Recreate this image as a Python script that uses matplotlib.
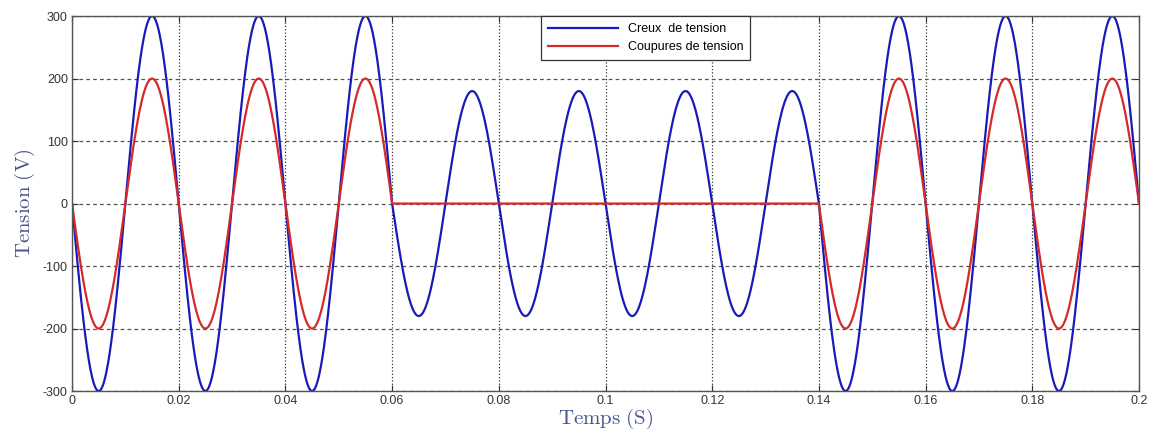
import numpy as np
import matplotlib
matplotlib.use('Agg')
from matplotlib import pyplot as plt

# signal description
seg_edges = [0.0, 0.06, 0.14, 0.2]      # s
creux_amp = [300, 180, 300]             # V, voltage dip
coupure_amp = [200, 0, 200]             # V, voltage cut
freq = 50                               # Hz

xticks = [0, 0.02, 0.04, 0.06, 0.08, 0.1, 0.12, 0.14, 0.16, 0.18, 0.2]
xtick_labels = ['0', '0.02', '0.04', '0.06', '0.08', '0.1', '0.12', '0.14', '0.16', '0.18', '0.2']
yticks = [-300, -200, -100, 0, 100, 200, 300]


def build_wave(amps):
    t_all, v_all = [], []
    for i, a in enumerate(amps):
        t = np.linspace(seg_edges[i], seg_edges[i + 1], 800)
        t_all.append(t)
        v_all.append(-a * np.sin(2 * np.pi * freq * t))
    return np.concatenate(t_all), np.concatenate(v_all)


t1, v1 = build_wave(creux_amp)
t2, v2 = build_wave(coupure_amp)

plt.rcParams['font.family'] = ['Liberation Sans', 'DejaVu Sans']
plt.rcParams['mathtext.fontset'] = 'cm'
plt.rcParams['axes.unicode_minus'] = False

fig = plt.figure(figsize=(11.54, 4.34), dpi=100)
ax = fig.add_axes([0.0624, 0.099, 0.9246, 0.864])

ax.plot(t1, v1, color='#1a1ab8', lw=1.6, label='Creux  de tension')
ax.plot(t2, v2, color='#d42a2a', lw=1.6, label='Coupures de tension')

ax.set_xlim(0, 0.2)
ax.set_ylim(-300, 300)
ax.set_xticks(xticks)
ax.set_xticklabels(xtick_labels)
ax.set_yticks(yticks)

ax.xaxis.grid(True, color='#333333', linestyle=':', lw=0.9)
ax.yaxis.grid(True, color='#555555', linestyle=(0, (3, 2.5)), lw=0.9)

ax.tick_params(direction='in', length=4, labelsize=9, colors='#333333', top=True, right=True, pad=3)
for s in ax.spines.values():
    s.set_color('#555555')
    s.set_linewidth(1.0)

lab_col = '#4a5590'
ax.set_xlabel(r'$\mathrm{Temps\ (S)}$', fontsize=15, color=lab_col, labelpad=0)
ax.set_ylabel(r'$\mathrm{Tension\ (V)}$', fontsize=15, color=lab_col, labelpad=4)

leg = ax.legend(loc='upper center', bbox_to_anchor=(0.5375, 1.0), borderaxespad=0,
                fontsize=9, fancybox=False, framealpha=1, edgecolor='#333333',
                handlelength=5.6, borderpad=0.55, labelspacing=0.5)
leg.get_frame().set_linewidth(0.9)

plt.savefig('out.png', dpi=100)
